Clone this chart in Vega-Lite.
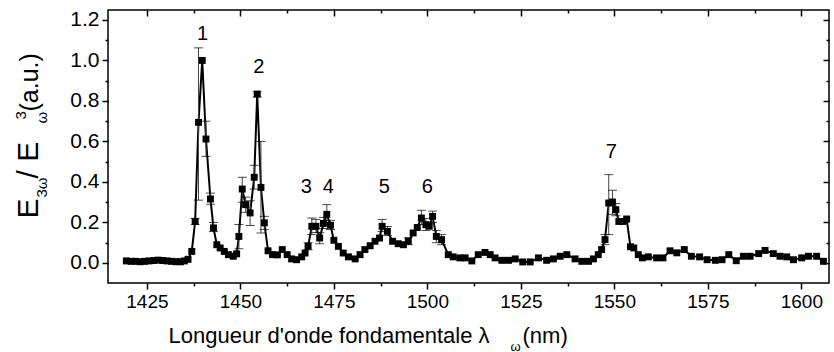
{
  "$schema": "https://vega.github.io/schema/vega-lite/v6.json",
  "width": 721,
  "height": 273,
  "autosize": {"type": "none"},
  "padding": {"left": 108, "top": 10, "right": 5, "bottom": 69},
  "background": "white",
  "config": {
    "font": "Liberation Sans",
    "view": {"stroke": "black", "strokeWidth": 1.5},
    "axis": {"grid": false, "domain": false, "tickColor": "black", "tickWidth": 1.5, "labelColor": "black", "titleColor": "black", "titleFontWeight": "normal", "labelFont": "Liberation Sans", "titleFont": "Liberation Sans"}
  },
  "datasets": {
    "pts": [
      {"x": 1419.5, "y": 0.010}, {"x": 1420.8, "y": 0.008}, {"x": 1422.0, "y": 0.008}, {"x": 1423.2, "y": 0.006},
      {"x": 1424.4, "y": 0.008}, {"x": 1425.6, "y": 0.010}, {"x": 1426.8, "y": 0.012}, {"x": 1428.0, "y": 0.014},
      {"x": 1429.2, "y": 0.012}, {"x": 1430.4, "y": 0.010}, {"x": 1431.6, "y": 0.008}, {"x": 1432.8, "y": 0.006},
      {"x": 1434.0, "y": 0.006}, {"x": 1435.0, "y": 0.010}, {"x": 1436.0, "y": 0.018}, {"x": 1437.0, "y": 0.057},
      {"x": 1437.9, "y": 0.205}, {"x": 1438.8, "y": 0.694}, {"x": 1439.8, "y": 1.0}, {"x": 1440.8, "y": 0.612},
      {"x": 1442.0, "y": 0.316}, {"x": 1442.8, "y": 0.173}, {"x": 1443.7, "y": 0.09}, {"x": 1444.6, "y": 0.074},
      {"x": 1445.7, "y": 0.057}, {"x": 1446.8, "y": 0.041}, {"x": 1448.1, "y": 0.033}, {"x": 1449.0, "y": 0.045},
      {"x": 1449.6, "y": 0.131}, {"x": 1450.5, "y": 0.365}, {"x": 1451.4, "y": 0.288}, {"x": 1452.6, "y": 0.247},
      {"x": 1453.7, "y": 0.423}, {"x": 1454.5, "y": 0.834}, {"x": 1455.5, "y": 0.373}, {"x": 1456.4, "y": 0.198},
      {"x": 1457.4, "y": 0.06}, {"x": 1458.6, "y": 0.041}, {"x": 1459.9, "y": 0.04}, {"x": 1461.2, "y": 0.066},
      {"x": 1462.5, "y": 0.041}, {"x": 1463.7, "y": 0.02}, {"x": 1465.0, "y": 0.016}, {"x": 1466.4, "y": 0.03},
      {"x": 1467.3, "y": 0.049}, {"x": 1468.1, "y": 0.082}, {"x": 1469.1, "y": 0.181}, {"x": 1470.2, "y": 0.181},
      {"x": 1471.2, "y": 0.123}, {"x": 1472.2, "y": 0.195}, {"x": 1473.1, "y": 0.240}, {"x": 1474.1, "y": 0.186},
      {"x": 1475.0, "y": 0.112}, {"x": 1476.2, "y": 0.082}, {"x": 1477.5, "y": 0.049}, {"x": 1478.9, "y": 0.030},
      {"x": 1480.7, "y": 0.020}, {"x": 1482.0, "y": 0.041}, {"x": 1483.3, "y": 0.066}, {"x": 1484.7, "y": 0.085},
      {"x": 1486.0, "y": 0.107}, {"x": 1487.2, "y": 0.123}, {"x": 1487.9, "y": 0.181}, {"x": 1489.3, "y": 0.156},
      {"x": 1490.7, "y": 0.107}, {"x": 1492.2, "y": 0.095}, {"x": 1493.6, "y": 0.090}, {"x": 1494.9, "y": 0.107},
      {"x": 1496.2, "y": 0.148}, {"x": 1497.3, "y": 0.175}, {"x": 1498.4, "y": 0.222}, {"x": 1499.6, "y": 0.189},
      {"x": 1500.5, "y": 0.181}, {"x": 1501.4, "y": 0.230}, {"x": 1502.4, "y": 0.131}, {"x": 1503.8, "y": 0.115},
      {"x": 1505.6, "y": 0.041}, {"x": 1506.9, "y": 0.030}, {"x": 1508.7, "y": 0.025}, {"x": 1510.1, "y": 0.025},
      {"x": 1511.9, "y": 0.010}, {"x": 1513.6, "y": 0.041}, {"x": 1515.4, "y": 0.052}, {"x": 1516.8, "y": 0.041},
      {"x": 1518.1, "y": 0.025}, {"x": 1519.9, "y": 0.013}, {"x": 1521.7, "y": 0.013}, {"x": 1523.5, "y": 0.020},
      {"x": 1525.5, "y": 0.005}, {"x": 1527.5, "y": 0.005}, {"x": 1529.7, "y": 0.025}, {"x": 1531.9, "y": 0.013},
      {"x": 1533.7, "y": 0.020}, {"x": 1535.5, "y": 0.033}, {"x": 1537.3, "y": 0.041}, {"x": 1539.5, "y": 0.020},
      {"x": 1541.3, "y": 0.008}, {"x": 1543.1, "y": 0.008}, {"x": 1544.4, "y": 0.020}, {"x": 1545.7, "y": 0.041},
      {"x": 1546.6, "y": 0.066}, {"x": 1547.5, "y": 0.115}, {"x": 1548.5, "y": 0.296}, {"x": 1549.5, "y": 0.301},
      {"x": 1550.4, "y": 0.263}, {"x": 1551.2, "y": 0.205}, {"x": 1552.3, "y": 0.205}, {"x": 1553.3, "y": 0.217},
      {"x": 1554.3, "y": 0.080}, {"x": 1555.2, "y": 0.074}, {"x": 1556.4, "y": 0.041}, {"x": 1557.5, "y": 0.025},
      {"x": 1559.1, "y": 0.030}, {"x": 1561.3, "y": 0.025}, {"x": 1563.0, "y": 0.025}, {"x": 1564.9, "y": 0.060},
      {"x": 1566.7, "y": 0.050}, {"x": 1568.7, "y": 0.066}, {"x": 1570.6, "y": 0.033}, {"x": 1572.8, "y": 0.030},
      {"x": 1574.8, "y": 0.016}, {"x": 1577.0, "y": 0.013}, {"x": 1578.8, "y": 0.016}, {"x": 1580.6, "y": 0.041},
      {"x": 1582.6, "y": 0.011}, {"x": 1584.5, "y": 0.033}, {"x": 1586.3, "y": 0.033}, {"x": 1588.6, "y": 0.046},
      {"x": 1590.3, "y": 0.062}, {"x": 1592.5, "y": 0.046}, {"x": 1594.3, "y": 0.033}, {"x": 1596.1, "y": 0.030},
      {"x": 1597.9, "y": 0.016}, {"x": 1600.1, "y": 0.025}, {"x": 1601.9, "y": 0.033}, {"x": 1604.1, "y": 0.033},
      {"x": 1605.9, "y": 0.008}
    ],
    "errs": [
      {"x": 1437.9, "lo": 0.19, "hi": 0.22}, {"x": 1438.8, "lo": 0.31, "hi": 1.062}, {"x": 1440.8, "lo": 0.526, "hi": 0.70},
      {"x": 1442.0, "lo": 0.29, "hi": 0.345}, {"x": 1442.8, "lo": 0.155, "hi": 0.20}, {"x": 1449.6, "lo": 0.07, "hi": 0.19},
      {"x": 1450.5, "lo": 0.30, "hi": 0.423}, {"x": 1451.4, "lo": 0.25, "hi": 0.325}, {"x": 1452.6, "lo": 0.185, "hi": 0.307},
      {"x": 1453.7, "lo": 0.365, "hi": 0.482}, {"x": 1454.5, "lo": 0.82, "hi": 0.845}, {"x": 1455.5, "lo": 0.148, "hi": 0.60},
      {"x": 1456.4, "lo": 0.165, "hi": 0.23}, {"x": 1468.1, "lo": 0.065, "hi": 0.10}, {"x": 1469.1, "lo": 0.14, "hi": 0.222},
      {"x": 1470.2, "lo": 0.15, "hi": 0.215}, {"x": 1471.2, "lo": 0.095, "hi": 0.15}, {"x": 1472.2, "lo": 0.17, "hi": 0.225},
      {"x": 1473.1, "lo": 0.19, "hi": 0.288}, {"x": 1474.1, "lo": 0.165, "hi": 0.21}, {"x": 1487.9, "lo": 0.155, "hi": 0.215},
      {"x": 1489.3, "lo": 0.135, "hi": 0.18}, {"x": 1494.9, "lo": 0.09, "hi": 0.125}, {"x": 1498.4, "lo": 0.19, "hi": 0.26},
      {"x": 1499.6, "lo": 0.16, "hi": 0.22}, {"x": 1501.4, "lo": 0.2, "hi": 0.256}, {"x": 1502.4, "lo": 0.1, "hi": 0.16},
      {"x": 1503.8, "lo": 0.09, "hi": 0.14}, {"x": 1547.5, "lo": 0.09, "hi": 0.14}, {"x": 1548.5, "lo": 0.14, "hi": 0.436},
      {"x": 1549.5, "lo": 0.24, "hi": 0.359}, {"x": 1550.4, "lo": 0.233, "hi": 0.293}
    ],
    "labels": [
      {"x": 1439.9, "y": 1.13, "t": "1"}, {"x": 1454.9, "y": 0.967, "t": "2"}, {"x": 1467.6, "y": 0.374, "t": "3"},
      {"x": 1473.5, "y": 0.374, "t": "4"}, {"x": 1488.5, "y": 0.374, "t": "5"}, {"x": 1500.0, "y": 0.374, "t": "6"},
      {"x": 1549.2, "y": 0.547, "t": "7"}
    ]
  },
  "resolve": {"axis": {"x": "independent", "y": "independent"}},
  "layer": [
    {
      "data": {"name": "pts"},
      "mark": {"type": "line", "color": "black", "strokeWidth": 2},
      "encoding": {
        "x": {"field": "x", "type": "quantitative", "scale": {"domain": [1414.6, 1607.4], "nice": false, "zero": false},
          "axis": {"orient": "bottom", "values": [1425, 1450, 1475, 1500, 1525, 1550, 1575, 1600], "format": "d", "tickSize": 6, "labelFontSize": 19, "labelPadding": 3,
            "title": "Longueur d'onde fondamentale λ", "titleFontSize": 22, "titleAlign": "left", "titleBaseline": "alphabetic", "titleX": 60, "titleY": 59}},
        "y": {"field": "y", "type": "quantitative", "scale": {"domain": [-0.099, 1.249], "nice": false, "zero": false},
          "axis": {"orient": "left", "values": [0, 0.2, 0.4, 0.6, 0.8, 1.0, 1.2], "format": ".1f", "tickSize": 6, "labelFontSize": 21, "labelPadding": 3,
            "title": "E", "titleFontSize": 30, "titleAngle": -90, "titleAlign": "left", "titleBaseline": "alphabetic", "titleX": -71, "titleY": 208}}
      }
    },
    {
      "data": {"name": "errs"},
      "mark": {"type": "rule", "color": "#444", "strokeWidth": 1},
      "encoding": {"x": {"field": "x", "type": "quantitative", "axis": null}, "y": {"field": "lo", "type": "quantitative", "axis": null}, "y2": {"field": "hi"}}
    },
    {
      "data": {"name": "errs"},
      "mark": {"type": "tick", "orient": "horizontal", "color": "black", "size": 9, "thickness": 1},
      "encoding": {"x": {"field": "x", "type": "quantitative", "axis": null}, "y": {"field": "lo", "type": "quantitative", "axis": null}}
    },
    {
      "data": {"name": "errs"},
      "mark": {"type": "tick", "orient": "horizontal", "color": "black", "size": 9, "thickness": 1},
      "encoding": {"x": {"field": "x", "type": "quantitative", "axis": null}, "y": {"field": "hi", "type": "quantitative", "axis": null}}
    },
    {
      "data": {"name": "pts"},
      "mark": {"type": "point", "shape": "square", "filled": true, "color": "black", "size": 48, "opacity": 1},
      "encoding": {"x": {"field": "x", "type": "quantitative", "axis": null}, "y": {"field": "y", "type": "quantitative", "axis": null}}
    },
    {
      "data": {"name": "labels"},
      "mark": {"type": "text", "fontSize": 20, "color": "black", "baseline": "middle", "align": "center"},
      "encoding": {"x": {"field": "x", "type": "quantitative", "axis": null}, "y": {"field": "y", "type": "quantitative", "axis": null}, "text": {"field": "t"}}
    },
    {
      "data": {"name": "pts"},
      "mark": {"type": "point", "opacity": 0},
      "encoding": {
        "x": {"field": "x", "type": "quantitative", "axis": {"orient": "bottom", "values": [1437.5, 1462.5, 1487.5, 1512.5, 1537.5, 1562.5, 1587.5], "tickSize": 3, "labels": false,
          "title": "ω", "titleFontSize": 13, "titleAlign": "left", "titleBaseline": "alphabetic", "titleX": 402, "titleY": 67}},
        "y": {"field": "y", "type": "quantitative", "axis": {"orient": "left", "values": [0.1, 0.3, 0.5, 0.7, 0.9, 1.1], "tickSize": 3, "labels": false,
          "title": "3ω", "titleFontSize": 15, "titleAngle": -90, "titleAlign": "left", "titleBaseline": "alphabetic", "titleX": -62, "titleY": 187}}
      }
    },
    {
      "data": {"name": "pts"},
      "mark": {"type": "point", "opacity": 0},
      "encoding": {
        "x": {"field": "x", "type": "quantitative", "axis": {"orient": "top", "values": [1425, 1450, 1475, 1500, 1525, 1550, 1575, 1600], "tickSize": 6, "offset": -6, "labels": false, "title": null}},
        "y": {"field": "y", "type": "quantitative", "axis": {"orient": "right", "values": [0, 0.2, 0.4, 0.6, 0.8, 1.0, 1.2], "tickSize": 6, "offset": -6, "labels": false, "title": null}}
      }
    },
    {
      "data": {"name": "pts"},
      "mark": {"type": "point", "opacity": 0},
      "encoding": {
        "x": {"field": "x", "type": "quantitative", "axis": {"orient": "top", "values": [1437.5, 1462.5, 1487.5, 1512.5, 1537.5, 1562.5, 1587.5], "tickSize": 3, "offset": -3, "labels": false, "title": null}},
        "y": {"field": "y", "type": "quantitative", "axis": {"orient": "right", "values": [0.1, 0.3, 0.5, 0.7, 0.9, 1.1], "tickSize": 3, "offset": -3, "labels": false, "title": null}}
      }
    },
    {
      "data": {"name": "pts"},
      "mark": {"type": "point", "opacity": 0},
      "encoding": {
        "x": {"field": "x", "type": "quantitative", "axis": {"orient": "bottom", "ticks": false, "labels": false, "values": [],
          "title": "(nm)", "titleFontSize": 22, "titleAlign": "left", "titleBaseline": "alphabetic", "titleX": 414, "titleY": 59}},
        "y": {"field": "y", "type": "quantitative", "axis": {"orient": "left", "ticks": false, "labels": false, "values": [],
          "title": "/ E", "titleFontSize": 30, "titleAngle": -90, "titleAlign": "left", "titleBaseline": "alphabetic", "titleX": -71, "titleY": 168}}
      }
    },
    {
      "data": {"name": "pts"},
      "mark": {"type": "point", "opacity": 0},
      "encoding": {
        "x": {"field": "x", "type": "quantitative", "axis": null},
        "y": {"field": "y", "type": "quantitative", "axis": {"orient": "left", "ticks": false, "labels": false, "values": [],
          "title": "ω", "titleFontSize": 15, "titleAngle": -90, "titleAlign": "left", "titleBaseline": "alphabetic", "titleX": -62, "titleY": 113}}
      }
    },
    {
      "data": {"name": "pts"},
      "mark": {"type": "point", "opacity": 0},
      "encoding": {
        "x": {"field": "x", "type": "quantitative", "axis": null},
        "y": {"field": "y", "type": "quantitative", "axis": {"orient": "left", "ticks": false, "labels": false, "values": [],
          "title": "3", "titleFontSize": 15, "titleAngle": -90, "titleAlign": "left", "titleBaseline": "alphabetic", "titleX": -83, "titleY": 109}}
      }
    },
    {
      "data": {"name": "pts"},
      "mark": {"type": "point", "opacity": 0},
      "encoding": {
        "x": {"field": "x", "type": "quantitative", "axis": null},
        "y": {"field": "y", "type": "quantitative", "axis": {"orient": "left", "ticks": false, "labels": false, "values": [],
          "title": "(a.u.)", "titleFontSize": 25, "titleAngle": -90, "titleAlign": "left", "titleBaseline": "alphabetic", "titleX": -71, "titleY": 101}}
      }
    }
  ]
}
